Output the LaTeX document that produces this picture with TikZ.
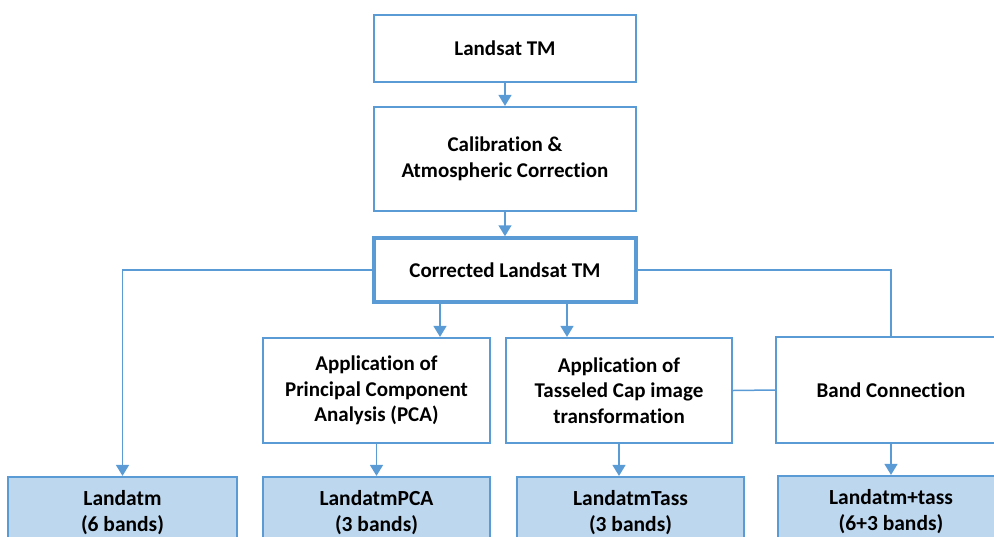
\documentclass[tikz,border=0pt]{standalone}
\usepackage{fontspec}
\setmainfont{Carlito}[RawFeature={-liga,-clig,-dlig}]
\usetikzlibrary{arrows.meta}
\definecolor{bord}{HTML}{5B9BD5}
\definecolor{lfill}{HTML}{BDD7EE}
\begin{document}
\begin{tikzpicture}[x=1pt,y=-1pt,
  box/.style={draw=bord,line width=2.2pt,fill=white,align=center,inner sep=0pt,
    font=\fontsize{21}{25.5}\selectfont\bfseries,text=black},
  outbox/.style={box,fill=lfill,font=\fontsize{21.5}{26}\selectfont\bfseries},
  conn/.style={draw=bord,line width=1.5pt},
  arr/.style={conn,-{Triangle[width=13pt,length=11pt]}}]
\useasboundingbox (0,0) rectangle (994,536);
\clip (0,0) rectangle (994,536);
\node[box,minimum width=262,minimum height=67] (L) at (505,48.5) {Landsat TM};
\node[box,minimum width=262,minimum height=104] (C) at (505,159) {Calibration \&\\Atmospheric Correction};
\node[box,line width=3.5pt,minimum width=262,minimum height=64] (K) at (505,270) {Corrected Landsat TM};
\node[box,minimum width=227,minimum height=105] (P) at (376.5,390.5) {Application of\\Principal Component\\Analysis (PCA)};
\node[box,minimum width=226,minimum height=105] (T) at (619,390.5) {Application of\\Tasseled Cap image\\transformation};
\node[box,minimum width=230,minimum height=106] (B) at (891,390) {Band Connection};
\node[outbox,minimum width=229,minimum height=71] (O1) at (122.5,512.5) {Landatm\\(6 bands)};
\node[outbox,minimum width=227,minimum height=71] (O2) at (376.5,512.5) {LandatmPCA\\(3 bands)};
\node[outbox,minimum width=227,minimum height=71] (O3) at (630.5,512.5) {LandatmTass\\(3 bands)};
\node[outbox,minimum width=226,minimum height=71] (O4) at (891,511.5) {Landatm+tass\\(6+3 bands)};
\coordinate (xa) at (440,0);
\coordinate (xb) at (567,0);
\draw[arr] (L) -- (C);
\draw[arr] (C) -- (K);
\draw[arr] (K.west) -| (O1.north);
\draw[conn] (K.east) -| (B.north);
\draw[arr] (K.south -| xa) -- (P.north -| xa);
\draw[arr] (K.south -| xb) -- (T.north -| xb);
\draw[conn] (T.east) -- (B.west);
\draw[arr] (P.south) -- (O2.north -| P.south);
\draw[arr] (T.south) -- (O3.north -| T.south);
\draw[arr] (B.south) -- (O4.north);
\end{tikzpicture}
\end{document}
